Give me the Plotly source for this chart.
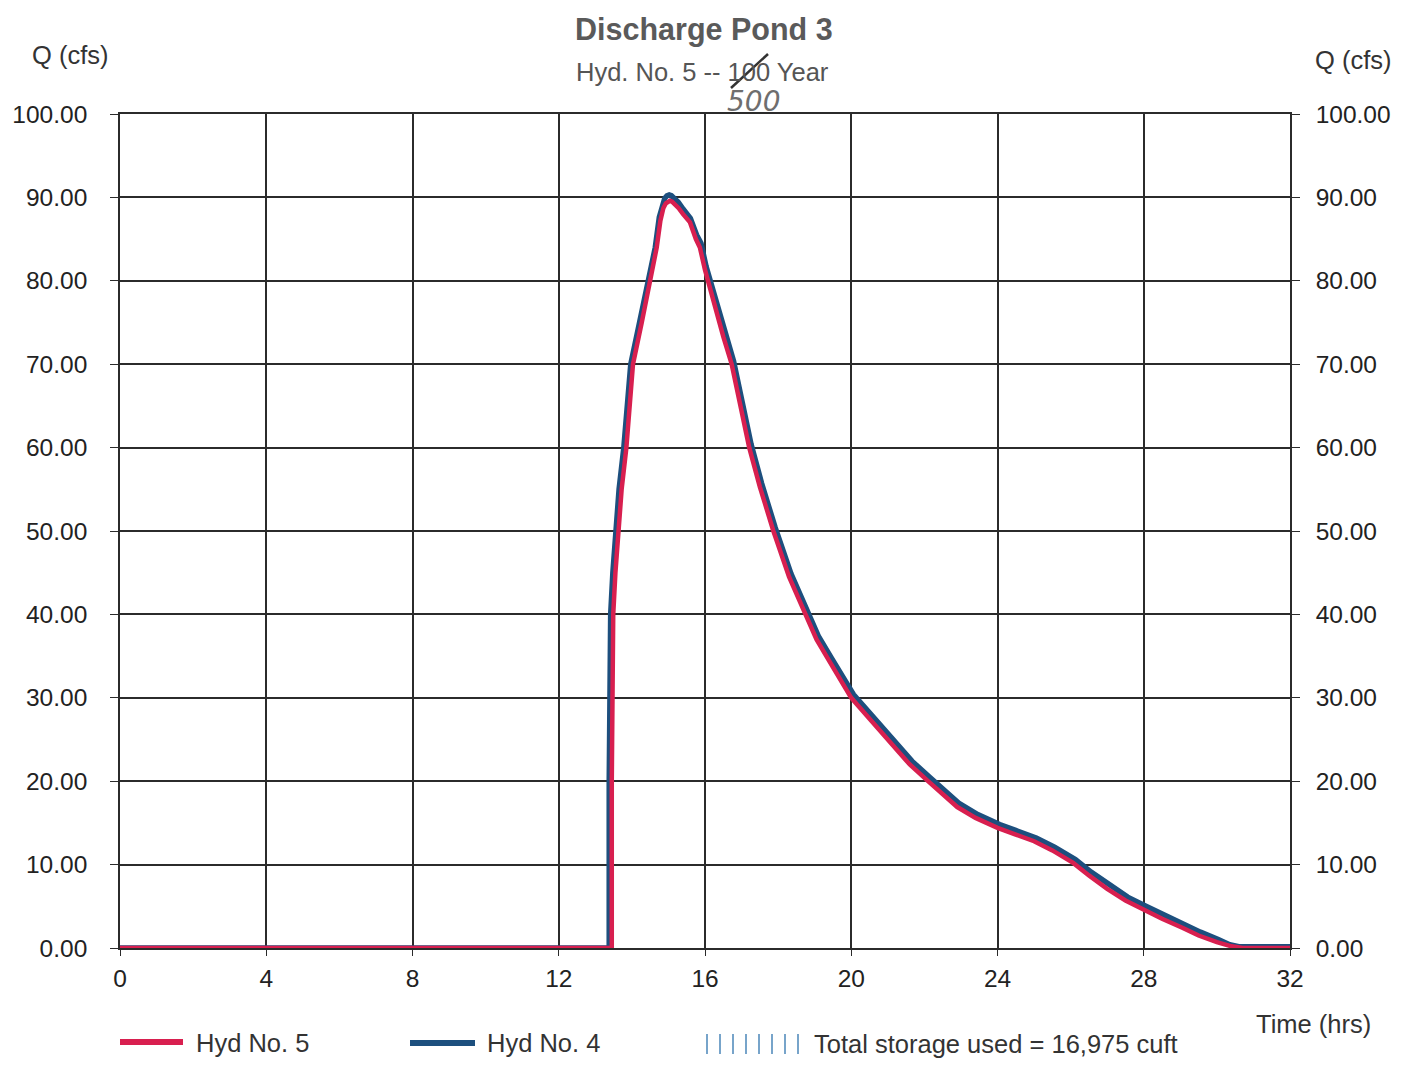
import plotly.graph_objects as go

# Hydrograph ordinates (time in hours, discharge in cfs)
time_hyd5 = [0, 13.45, 13.45, 13.46, 13.49, 13.55, 13.62, 13.72, 13.85, 13.93, 14.03, 14.27,
             14.5, 14.68, 14.78, 14.86, 14.93, 14.99, 15.04, 15.1, 15.18, 15.28, 15.4, 15.59,
             15.75, 15.86, 16.0, 16.08,
             16.3, 16.5, 16.73, 16.97, 17.21, 17.5, 17.87, 18.3, 18.74, 19.05, 19.4, 19.7,
             20.0, 20.5, 21.06, 21.6, 22.1, 22.5, 22.9, 23.4, 24.0, 24.5, 25.0, 25.5,
             26.07, 26.5, 27.0, 27.5, 28.0, 28.5, 29.07, 29.5, 30.0, 30.4, 30.7, 32.0]
q_hyd5 = [0, 0, 20, 30, 40, 45, 50, 55, 60, 65, 70, 75,
          80, 84, 87.2, 88.7, 89.3, 89.55, 89.6, 89.5, 89.2, 88.7, 88.0, 87.0,
          85.0, 84.0, 81.3, 80.0,
          76.5, 73.3, 70.0, 65.0, 60.0, 55.3, 50.0, 44.5, 40.0, 37.0, 34.4, 32.2,
          30.0, 27.5, 24.6, 22.0, 20.0, 18.5, 16.9, 15.6, 14.4, 13.6, 12.8, 11.7,
          10.2, 8.7, 7.1, 5.7, 4.6, 3.5, 2.4, 1.5, 0.7, 0.2, 0.0, 0.0]

time_hyd4 = [0, 13.38, 13.38, 13.39, 13.42, 13.48, 13.55, 13.65, 13.78, 13.87, 13.97, 14.21,
             14.45, 14.64, 14.75, 14.83, 14.9, 14.96, 15.02, 15.08, 15.17, 15.27, 15.4, 15.6,
             15.77, 15.89, 16.03, 16.12,
             16.35, 16.55, 16.78, 17.02, 17.26, 17.55, 17.92, 18.35, 18.79, 19.1, 19.45, 19.75,
             20.06, 20.56, 21.12, 21.66, 22.16, 22.56, 22.96, 23.46, 24.06, 24.56, 25.06, 25.56,
             26.13, 26.56, 27.06, 27.56, 28.06, 28.56, 29.12, 29.55, 30.04, 30.35, 30.6, 32.0]
q_hyd4 = [0, 0, 20, 30, 40, 45, 50, 55, 60, 65, 70, 75,
          80, 84, 87.6, 89.2, 89.9, 90.2, 90.3, 90.2, 89.9, 89.4, 88.6, 87.5,
          85.5, 84.5, 81.7, 80.4,
          76.9, 73.7, 70.4, 65.4, 60.4, 55.7, 50.4, 44.9, 40.4, 37.4, 34.8, 32.6,
          30.4, 27.9, 25.0, 22.4, 20.4, 18.9, 17.3, 16.0, 14.8, 14.0, 13.2, 12.1,
          10.6, 9.1, 7.5, 6.1, 5.0, 3.9, 2.8, 1.9, 1.0, 0.4, 0.15, 0.15]

x_ticks = [0, 4, 8, 12, 16, 20, 24, 28, 32]
y_ticks = [0, 10, 20, 30, 40, 50, 60, 70, 80, 90, 100]

title_text = "Discharge Pond 3"
subtitle_text = "Hyd. No. 5 -- 100 Year"
storage_text = "Total storage used = 16,975 cuft"

RED = "#d81f4f"
BLUE = "#1d4f7e"
GRID = "#2b2b2b"
FONT = "Liberation Sans, Arial, sans-serif"
TICK_SIZE = 24.5
TEXT_SIZE = 25.5

fig = go.Figure()
fig.add_trace(go.Scatter(x=time_hyd4, y=q_hyd4, mode="lines", name="Hyd No. 4",
                         line=dict(color=BLUE, width=5.5)))
fig.add_trace(go.Scatter(x=time_hyd5, y=q_hyd5, mode="lines", name="Hyd No. 5",
                         line=dict(color=RED, width=4.5)))
# invisible trace to carry the right-hand axis
fig.add_trace(go.Scatter(x=[0, 32], y=[0, 100], yaxis="y2", mode="lines",
                         line=dict(width=0), hoverinfo="skip", showlegend=False))

fig.update_layout(
    width=1405, height=1068,
    margin=dict(l=120, r=115, t=114, b=120, autoexpand=False),
    paper_bgcolor="white", plot_bgcolor="white",
    showlegend=False,
    xaxis=dict(range=[0, 32], tickvals=x_ticks, ticktext=[str(v) for v in x_ticks],
               ticks="outside", ticklen=6, tickcolor=GRID, mirror=True,
               ticklabelstandoff=2, automargin=False,
               showgrid=True, gridcolor=GRID, gridwidth=1.6, zeroline=False,
               showline=True, linecolor=GRID, linewidth=1.6,
               tickfont=dict(family=FONT, size=TICK_SIZE, color="#222")),
    yaxis=dict(range=[0, 100], tickvals=y_ticks, tickformat=".2f",
               ticks="outside", ticklen=8, tickcolor=GRID, ticklabelstandoff=18,
               automargin=False,
               showgrid=True, gridcolor=GRID, gridwidth=1.6, zeroline=False,
               showline=True, linecolor=GRID, linewidth=1.6,
               tickfont=dict(family=FONT, size=TICK_SIZE, color="#222")),
    yaxis2=dict(range=[0, 100], tickvals=y_ticks, tickformat=".2f", overlaying="y",
                side="right", ticks="outside", ticklen=8, tickcolor=GRID,
                ticklabelstandoff=11, automargin=False,
                showgrid=False, zeroline=False, showline=True, linecolor=GRID, linewidth=1.6,
                tickfont=dict(family=FONT, size=TICK_SIZE, color="#222")),
)


def px_x(p):
    return (p - 120) / 1170


def px_y(p):
    return (948 - p) / 834


def label(text, x, y, size=TEXT_SIZE, color="#333", xanchor="center", family=FONT):
    return dict(text=text, x=px_x(x), y=px_y(y), xref="paper", yref="paper",
                xanchor=xanchor, yanchor="middle", showarrow=False,
                font=dict(family=family, size=size, color=color))


ann = [
    label(f"<b>{title_text}</b>", 704, 30, size=30.5, color="#5a5a5a"),
    label(subtitle_text, 702, 72, size=TEXT_SIZE, color="#555"),
    label("<i>500</i>", 753, 101, size=28, color="#6e6e6e",
          family="DejaVu Sans, sans-serif"),
    label("Q (cfs)", 70, 55),
    label("Q (cfs)", 1353, 60),
    label("Time (hrs)", 1313, 1024),
    label("Hyd No. 5", 194, 1043, xanchor="left"),
    label("Hyd No. 4", 485, 1043, xanchor="left"),
    label(storage_text, 812, 1044, xanchor="left"),
]
fig.update_layout(annotations=ann)

shapes = []
# legend line samples
shapes.append(dict(type="line", xref="paper", yref="paper", x0=px_x(120), x1=px_x(183),
                   y0=px_y(1042), y1=px_y(1042), line=dict(color=RED, width=6)))
shapes.append(dict(type="line", xref="paper", yref="paper", x0=px_x(410), x1=px_x(475),
                   y0=px_y(1043), y1=px_y(1043), line=dict(color=BLUE, width=6)))
# hatched storage swatch
for i in range(8):
    xp = 707 + i * 13
    shapes.append(dict(type="line", xref="paper", yref="paper", x0=px_x(xp), x1=px_x(xp),
                       y0=px_y(1034), y1=px_y(1054), line=dict(color="#4a86b8", width=1.5)))
# strike through the printed return period
shapes.append(dict(type="line", xref="paper", yref="paper", x0=px_x(731), x1=px_x(768),
                   y0=px_y(88), y1=px_y(54), line=dict(color="#333", width=2.5)))
fig.update_layout(shapes=shapes)

fig.write_html("out.html")
